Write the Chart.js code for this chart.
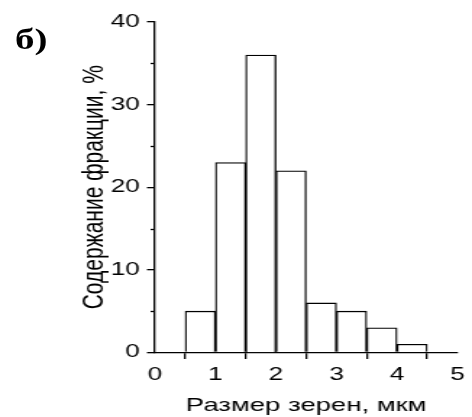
<!DOCTYPE html>
<html>
<head>
<meta charset="utf-8">
<script src="https://cdn.jsdelivr.net/npm/chart.js@4.4.1/dist/chart.umd.min.js"></script>
<style>
  html, body { margin: 0; padding: 0; background: #fff; overflow: hidden; }
  #wrap { position: relative; width: 472px; height: 417px; }
  #histChart { position: absolute; left: 0; top: 0; }
  #panel { position: absolute; left: 15px; top: 22px; font: bold 30px "Liberation Serif", "Times New Roman", serif; color: #000;
           transform: scaleX(1.3); transform-origin: left top; }
</style>
</head>
<body>
<div id="wrap">
  <!-- the original figure is stretched horizontally, so the canvas is too -->
  <canvas id="histChart" width="326" height="417" style="width:472px;height:417px"></canvas>
  <div id="panel">б)</div>
</div>
<script>
// bin centres (мкм), bin width 0.5
const binCenters = [0.75, 1.25, 1.75, 2.25, 2.75, 3.25, 3.75, 4.25];
const fractionValues = [5, 23, 36, 22, 6, 5, 3, 1];
const xTicks = [0, 1, 2, 3, 4, 5];
const yTicks = [0, 10, 20, 30, 40];
const yMinorTicks = [5, 15, 25, 35];

const tickFont = { family: 'Arial, "Liberation Sans", sans-serif', size: 18 };

// short minor ticks on the y axis
const minorTicksPlugin = {
    id: 'minorTicks',
    afterDraw(chart) {
        const ctx = chart.ctx;
        const y = chart.scales.y;
        const x0 = chart.chartArea.left;
        ctx.save();
        ctx.strokeStyle = '#000';
        ctx.lineWidth = 1.3;
        for (const v of yMinorTicks) {
            const py = Math.round(y.getPixelForValue(v)) + 0.5;
            ctx.beginPath();
            ctx.moveTo(x0 - 3, py);
            ctx.lineTo(x0, py);
            ctx.stroke();
        }
        ctx.restore();
    }
};

const ctx = document.getElementById('histChart').getContext('2d');
const histChart = new Chart(ctx, {
    type: 'bar',
    data: {
        datasets: [{
            data: binCenters.map((c, i) => ({ x: c, y: fractionValues[i] })),
            backgroundColor: '#fff',
            borderColor: '#000',
            borderWidth: 1.3,
            borderSkipped: 'bottom',
            barPercentage: 1,
            categoryPercentage: 1,
        }],
    },
    options: {
        responsive: false,
        animation: false,
        devicePixelRatio: 1,
        layout: { padding: { left: 0, right: 6, top: 22, bottom: 0 } },
        plugins: { legend: { display: false }, tooltip: { enabled: false } },
        scales: {
            x: {
                type: 'linear',
                min: 0,
                max: 5,
                offset: false,
                afterBuildTicks: (scale) => { scale.ticks = xTicks.map(v => ({ value: v })); },
                afterFit: (scale) => { scale.height = 64.5; },
                ticks: { color: '#000', font: tickFont, padding: 5, maxRotation: 0 },
                grid: { drawOnChartArea: false, tickLength: 6.5, color: '#000', lineWidth: 1.3 },
                border: { color: '#000', width: 1.3 },
                title: { display: true, text: 'Размер зерен, мкм', color: '#000',
                         font: { family: tickFont.family, size: 19 }, padding: { top: 0, bottom: 0 } },
            },
            y: {
                min: 0,
                max: 40,
                afterBuildTicks: (scale) => { scale.ticks = yTicks.map(v => ({ value: v })); },
                afterFit: (scale) => { scale.width = 107; },
                ticks: { color: '#000', font: tickFont, padding: 5 },
                grid: { drawOnChartArea: false, tickLength: 5.5, color: '#000', lineWidth: 1.3 },
                border: { color: '#000', width: 1.3 },
                title: { display: true, text: 'Содержание фракции, %', color: '#000',
                         font: { family: tickFont.family, size: 21 }, padding: { top: 53, bottom: 0 } },
            },
        },
    },
    plugins: [minorTicksPlugin],
});
</script>
</body>
</html>
